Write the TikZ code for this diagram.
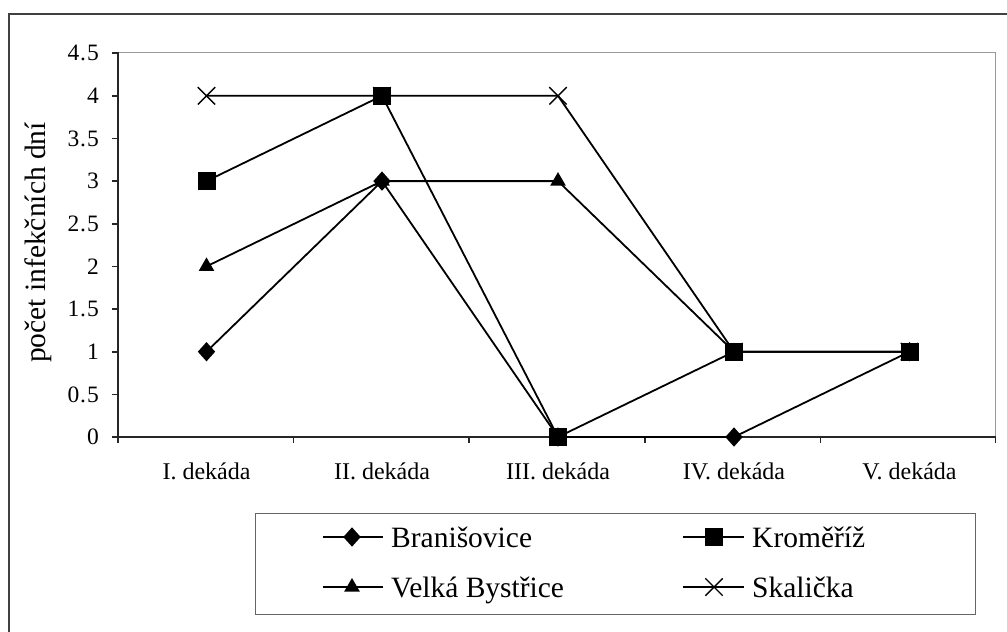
\documentclass[tikz,border=0pt]{standalone}
\usepackage{fontspec}
\setmainfont{Liberation Serif}
\usetikzlibrary{shapes.geometric,shapes.misc}
\begin{document}
\begin{tikzpicture}[x=1pt,y=-1pt,
  ser/.style={line width=1.8pt, black, line join=round},
  mk/.style={inner sep=0pt, fill=black, draw=none},
  sq/.style={mk, rectangle, minimum size=18pt},
  dm/.style={mk, diamond, minimum width=17.5pt, minimum height=19.5pt},
  tri/.style={mk, regular polygon, regular polygon sides=3, minimum size=18pt},
  crs/.style={cross out, draw=black, line width=1.4pt, minimum size=16pt, inner sep=0pt},
  ticklab/.style={anchor=east, inner sep=0pt, font=\fontsize{23.5}{24}\selectfont\addfontfeatures{LetterSpace=4}},
  catlab/.style={anchor=base, inner sep=0pt, font=\fontsize{24}{24}\selectfont},
  legtxt/.style={anchor=base west, inner sep=0pt, font=\fontsize{29.5}{30}\selectfont},
  axisline/.style={line width=1.6pt, black!85},
  plotborder/.style={line width=1.6pt, black!40},
  frameline/.style={line width=2.5pt, black!75},
  legbox/.style={draw=black!60, line width=1.4pt, minimum width=720pt, minimum height=101pt, anchor=north west, inner sep=0pt}
]
\useasboundingbox (0,0) rectangle (1007,632);

% outer frame
\draw[frameline] (9,640) -- (9,14) -- (1015,14);

% plot area border
\draw[plotborder] (118,52.3) -- (995.5,52.3) -- (995.5,437);

% axes
\draw[axisline] (118,52.3) -- (118,437) -- (996,437);
\foreach \lab [count=\i] in {0,0.5,1,1.5,2,2.5,3,3.5,4,4.5}{
  \draw[axisline] (112,{437-85.3*\lab}) -- (118,{437-85.3*\lab});
  \node[ticklab] (yt\i) at (99,{437-85.3*\lab}) {\lab};
}
\foreach \xx in {118,293.6,469.2,644.8,820.4,995.5}{
  \draw[axisline] (\xx,437) -- (\xx,443);
}

% category labels
\node[catlab] (c1) at (206.5,479) {I. dekáda};
\node[catlab] (c2) at (382,479) {II. dekáda};
\node[catlab] (c3) at (558,479) {III. dekáda};
\node[catlab] (c4) at (734,479) {IV. dekáda};
\node[catlab] (c5) at (909.5,479) {V. dekáda};

% y axis title
\node[rotate=90, anchor=base, inner sep=0pt, font=\fontsize{29.5}{30}\selectfont] (ytitle) at (45,242.5) {počet infekčních dní};

% data coordinates
\def\yv#1{437-85.3*#1}
% Branisovice: 1,3,0,0,1
\coordinate (b1) at (206.5,{\yv{1}});
\coordinate (b2) at (382,{\yv{3}});
\coordinate (b3) at (558,{\yv{0}});
\coordinate (b4) at (734,{\yv{0}});
\coordinate (b5) at (909.5,{\yv{1}});
% Kromeriz: 3,4,0,1,1
\coordinate (k1) at (206.5,{\yv{3}});
\coordinate (k2) at (382,{\yv{4}});
\coordinate (k3) at (558,{\yv{0}});
\coordinate (k4) at (734,{\yv{1}});
\coordinate (k5) at (909.5,{\yv{1}});
% Velka Bystrice: 2,3,3,1,1
\coordinate (v1) at (206.5,{\yv{2}});
\coordinate (v2) at (382,{\yv{3}});
\coordinate (v3) at (558,{\yv{3}});
\coordinate (v4) at (734,{\yv{1}});
\coordinate (v5) at (909.5,{\yv{1}});
% Skalicka: 4,4,4,1,1
\coordinate (s1) at (206.5,{\yv{4}});
\coordinate (s2) at (382,{\yv{4}});
\coordinate (s3) at (558,{\yv{4}});
\coordinate (s4) at (734,{\yv{1}});
\coordinate (s5) at (909.5,{\yv{1}});

% series lines
\draw[ser] (b1) -- (b2) -- (b3) -- (b4) -- (b5);
\draw[ser] (k1) -- (k2) -- (k3) -- (k4) -- (k5);
\draw[ser] (v1) -- (v2) -- (v3) -- (v4) -- (v5);
\draw[ser] (s1) -- (s2) -- (s3) -- (s4) -- (s5);

% markers
\foreach \i in {1,...,5}{
  \node[tri] (vm\i) at (v\i) {};
}
\foreach \i in {1,...,5}{
  \node[dm] (bm\i) at (b\i) {};
  \node[sq] (km\i) at (k\i) {};
  \node[crs] (sm\i) at (s\i) {};
}

% legend
\node[legbox] (legend) at (255,513) {};
\coordinate (lb1) at (323,537); \coordinate (lb2) at (383,537);
\draw[ser] (lb1) -- (lb2);
\node[dm] (lbm) at (352,537) {};
\node[legtxt] (lbt) at (391,547) {Branišovice};

\coordinate (lv1) at (323,587); \coordinate (lv2) at (383,587);
\draw[ser] (lv1) -- (lv2);
\node[tri] (lvm) at (352,587) {};
\node[legtxt] (lvt) at (391,597) {Velká Bystřice};

\coordinate (lk1) at (683,537); \coordinate (lk2) at (744,537);
\draw[ser] (lk1) -- (lk2);
\node[sq] (lkm) at (714,537) {};
\node[legtxt] (lkt) at (752,547) {Kroměříž};

\coordinate (ls1) at (683,587); \coordinate (ls2) at (744,587);
\draw[ser] (ls1) -- (ls2);
\node[crs] (lsm) at (714,587) {};
\node[legtxt] (lst) at (752,597) {Skalička};
\end{tikzpicture}
\end{document}
